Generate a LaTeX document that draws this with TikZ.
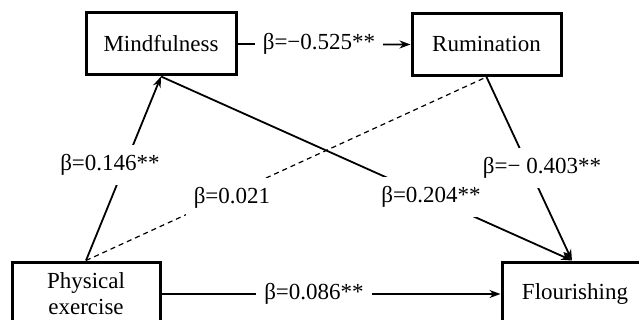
\documentclass[tikz,border=0pt]{standalone}
\usepackage{fontspec}
\setmainfont{Liberation Serif}
\usetikzlibrary{arrows.meta}
\begin{document}
\begin{tikzpicture}[x=1pt,y=-1pt,
  box/.style={draw, line width=3pt, minimum width=149pt, minimum height=62pt, inner sep=0pt, align=center, font=\fontsize{23}{28}\selectfont},
  conn/.style={line width=1.8pt, -{Stealth[length=11pt,width=8pt]}},
  dconn/.style={line width=1.2pt, dash pattern=on 5pt off 4pt},
  lab/.style={fill=white, inner xsep=8pt, inner ysep=9pt, font=\fontsize{23}{28}\selectfont}]
\useasboundingbox (0,0) rectangle (639,320);
\clip (0,0) rectangle (639,320);
\fill[white] (0,0) rectangle (639,320);
\node[box, minimum width=150pt] (mind) at (161,44) {Mindfulness};
\node[box] (rum) at (486.5,44.5) {Rumination};
\node[box, minimum width=148pt, minimum height=64pt] (phys) at (86,294) {Physical\\[-2pt]exercise};
\node[box, minimum width=146pt, minimum height=64pt] (flo) at (575,294) {Flourishing};
\draw[dconn] (phys.north) -- (rum.south);
\draw[conn] (phys.north) -- (mind.south);
\draw[conn] (mind.east) -- (rum.west);
\draw[conn] (mind.south) -- ([xshift=-3pt]flo.north);
\draw[conn] (rum.south) -- ([xshift=-3pt]flo.north);
\draw[conn] (phys.east |- flo.west) -- (flo.west);
\node[lab] (l1) at (319,44) {β=−0.525**};
\node[lab] (l2) at (110,165) {β=0.146**};
\node[lab] (l3) at (232,198) {β=0.021};
\node[lab] (l4) at (431,197) {β=0.204**};
\node[lab] (l5) at (542,168) {β=− 0.403**};
\node[lab] (l6) at (314,294) {β=0.086**};
\end{tikzpicture}
\end{document}
